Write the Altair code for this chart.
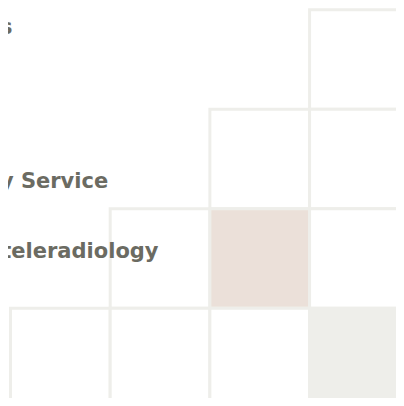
import altair as alt
import pandas as pd

# Grid cells (row 0 at top, column 0 at left)
cell_row = [0, 1, 1, 2, 2, 2, 3, 3, 3, 3]
cell_col = [3, 2, 3, 1, 2, 3, 0, 1, 2, 3]
cell_kind = ["empty", "empty", "empty", "empty", "match", "empty",
             "empty", "empty", "empty", "self"]

# Row labels (only their right ends are visible in the cropped view)
labels = ["Radiology Practices", "Emergency Service", "Preliminary teleradiology"]
label_x = [0.02, 0.98, 1.485]    # right end, in column units
label_y = [0.24, 1.79, 2.49]     # baseline, in row units

kinds = ["empty", "match", "self"]
kind_colors = ["#ffffff", "#ebe0d9", "#eeeeea"]

cells = pd.DataFrame({
    "row": cell_row,
    "row2": [r + 1 for r in cell_row],
    "col": cell_col,
    "col2": [c + 1 for c in cell_col],
    "kind": cell_kind,
})
lab = pd.DataFrame({"label": labels, "x": label_x, "y": label_y})

W, H = 388, 390
xs = alt.Scale(domain=[-0.025, 3.867], nice=False, zero=False)
ys = alt.Scale(domain=[-0.018, 3.902], nice=False, zero=False, reverse=True)

rects = alt.Chart(cells).mark_rect(stroke="#eeeeea", strokeWidth=3).encode(
    x=alt.X("col:Q", scale=xs, axis=None),
    x2="col2:Q",
    y=alt.Y("row:Q", scale=ys, axis=None),
    y2="row2:Q",
    fill=alt.Fill("kind:N", scale=alt.Scale(domain=kinds, range=kind_colors), legend=None),
)

texts = alt.Chart(lab).mark_text(
    align="right", baseline="alphabetic", font="DejaVu Sans",
    fontWeight="bold", fontSize=21, color="#6b6b62",
).encode(
    x=alt.X("x:Q", scale=xs, axis=None),
    y=alt.Y("y:Q", scale=ys, axis=None),
    text="label:N",
)

chart = alt.layer(rects, texts).properties(
    width=W, height=H, padding=0,
    autosize=alt.AutoSizeParams(type="none"),
    background="#ffffff",
).configure_view(stroke=None)

chart.save("out.html", embed_options={"renderer": "svg", "actions": False})
